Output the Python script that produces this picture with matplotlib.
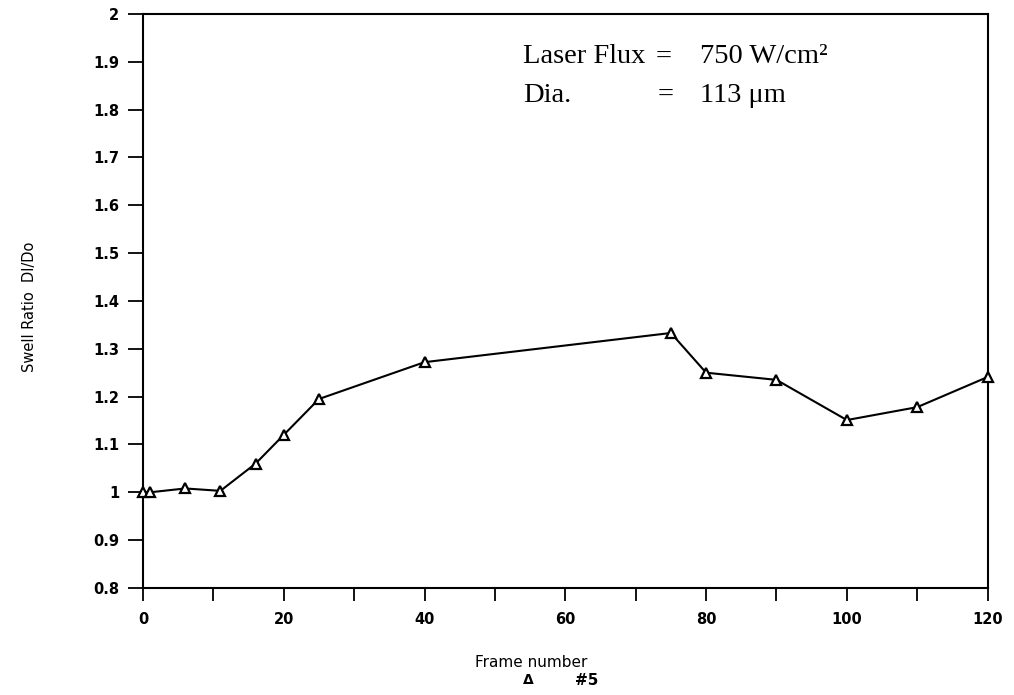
import matplotlib.pyplot as plt
import numpy as np

# frame number vs swell ratio (run #5)
frames = [0, 1, 6, 11, 16, 20, 25, 40, 75, 80, 90, 100, 110, 120]
swell = [1.0, 1.0, 1.008, 1.003, 1.06, 1.12, 1.195, 1.272, 1.333, 1.25, 1.235, 1.151, 1.178, 1.241]

x_major = [0, 20, 40, 60, 80, 100, 120]
x_minor = [10, 30, 50, 70, 90, 110]
y_ticks = [0.8, 0.9, 1, 1.1, 1.2, 1.3, 1.4, 1.5, 1.6, 1.7, 1.8, 1.9, 2]
y_labels = ['0.8', '0.9', '1', '1.1', '1.2', '1.3', '1.4', '1.5', '1.6', '1.7', '1.8', '1.9', '2']

fig = plt.figure(figsize=(10.14, 6.95), dpi=100)
ax = fig.add_axes([0.141, 0.154, 0.833, 0.826])

ax.plot(frames, swell, color='black', linewidth=1.5, marker='^', markersize=7,
        markerfacecolor='white', markeredgecolor='black', markeredgewidth=1.6, clip_on=False, zorder=3)

ax.set_xlim(0, 120)
ax.set_ylim(0.8, 2)
ax.set_xticks(x_major)
ax.set_xticks(x_minor, minor=True)
ax.set_yticks(y_ticks)
ax.set_yticklabels(y_labels)

for sp in ax.spines.values():
    sp.set_linewidth(1.5)

ax.tick_params(axis='both', which='both', direction='out', width=1.3, colors='black')
ax.tick_params(axis='x', which='major', length=9, pad=8)
ax.tick_params(axis='x', which='minor', length=9)
ax.tick_params(axis='y', length=11, pad=6)
for lbl in ax.get_xticklabels() + ax.get_yticklabels():
    lbl.set_fontweight('bold')
    lbl.set_fontsize(10.5)

ax.set_ylabel('Swell Ratio  Dl/Do', fontsize=10.5)
ax.yaxis.set_label_coords(-0.126, 0.49)
fig.text(0.524, 0.047, 'Frame number', ha='center', va='center', fontsize=11)
fig.text(0.521, 0.021, '\u0394', ha='center', va='center', fontsize=10, fontweight='bold')
fig.text(0.579, 0.021, '#5', ha='center', va='center', fontsize=11, fontweight='bold')

serif = 'Liberation Serif'
fs = 20.5
ax.text(54, 1.91, 'Laser Flux', fontsize=fs, family=serif, va='center', ha='left')
ax.text(74.0, 1.91, '=', fontsize=fs, family=serif, va='center', ha='center')
ax.text(79.2, 1.91, '750 W/cm\u00b2', fontsize=fs, family=serif, va='center', ha='left')
ax.text(54, 1.83, 'Dia.', fontsize=fs, family=serif, va='center', ha='left')
ax.text(74.2, 1.83, '=', fontsize=fs, family=serif, va='center', ha='center')
ax.text(79.2, 1.83, '113 \u03bcm', fontsize=fs, family=serif, va='center', ha='left')

fig.savefig('out.png', dpi=100)
